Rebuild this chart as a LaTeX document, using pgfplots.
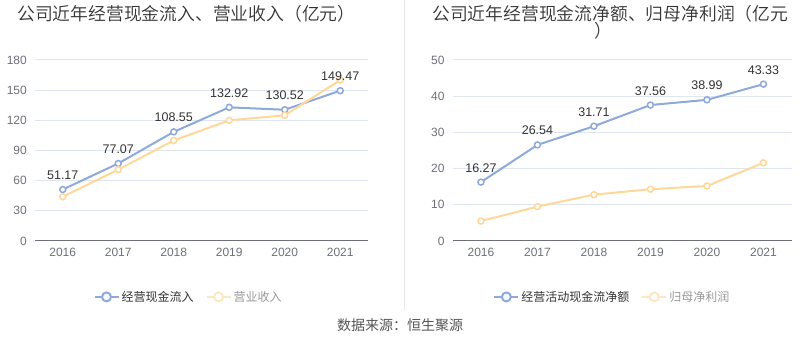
\documentclass[border=0pt]{standalone}
\usepackage{fontspec}
\setmainfont{Liberation Sans}
\newfontfamily\cjk{Noto Sans CJK SC}
\newfontfamily\cjkl{Noto Sans CJK SC DemiLight}
\usepackage{pgfplots}
\pgfplotsset{compat=1.18}
\definecolor{lblue}{HTML}{8EA9DB}
\definecolor{lorange}{HTML}{FFD899}
\definecolor{forange}{HTML}{FFE6C4}
\definecolor{gridc}{HTML}{E0E6F1}
\definecolor{axc}{HTML}{6E7079}
\definecolor{txt}{HTML}{333333}
\definecolor{ltxt}{HTML}{999999}
\definecolor{ftxt}{HTML}{555555}
\definecolor{sep}{HTML}{E8E8E8}
\pgfplotsset{
 mystyle/.style={
  scale only axis, anchor=south west, height=181pt,
  xmin=-0.5, xmax=5.5, ymin=0,
  xtick={0,1,2,3,4,5}, xticklabels={2016,2017,2018,2019,2020,2021},
  axis line style={draw=none},
  ymajorgrids, grid style={gridc, line width=1pt},
  major tick length=0pt,
  /pgf/number format/assume math mode=true,
  tick label style={axc, font=\fontsize{12}{12}\selectfont},
  xticklabel style={anchor=north, inner sep=0pt, yshift=-7pt},
  yticklabel style={anchor=east, inner sep=0pt, xshift=-8pt},
  clip=false,
  legend style={draw=none, fill=none, inner sep=0pt, legend columns=2,
    font=\cjk\fontsize{12}{12}\selectfont,
    /tikz/every even column/.append style={column sep=10pt},
    nodes={inner sep=2pt}},
  legend image code/.code={\draw[line width=2pt] (0pt,0pt) -- (24pt,0pt); \draw[line width=2pt, fill=white] (12pt,0pt) circle (4.5pt);},
  ser/.style={line width=2pt, mark=*, mark size=3pt, mark options={fill=white, line width=1.5pt}, forget plot},
  lab/.style={draw=none, mark=none, forget plot, nodes near coords={\pgfmathprintnumber[fixed,fixed zerofill,precision=2]{\pgfplotspointmeta}},
    nodes near coords style={text=txt, font=\fontsize{12.5}{12.5}\selectfont, anchor=base, yshift=10pt}},
 }
}
\begin{document}
\begin{tikzpicture}[x=1pt,y=1pt]
\path[use as bounding box] (0,0) rectangle (800,358);
\draw[sep, line width=1pt] (404.5,358) -- (404.5,48);
\node[anchor=west, inner sep=0pt, text=txt, font=\cjkl\fontsize{17.8}{17.8}\selectfont] at (17,344) {公司近年经营现金流入、营业收入（亿元）};
\node[anchor=west, inner sep=0pt, text=txt, font=\cjkl\fontsize{17.8}{17.8}\selectfont] at (432,344) {公司近年经营现金流净额、归母净利润（亿元};
\node[anchor=west, inner sep=0pt, text=txt, font=\cjkl\fontsize{17.8}{17.8}\selectfont] at (594,327) {）};
\node[text=ftxt, font=\cjk\fontsize{14}{14}\selectfont] at (400,33) {数据来源：恒生聚源};

\begin{axis}[mystyle, at={(35pt,117pt)}, width=333pt, ymax=180, ytick={0,30,60,90,120,150,180},
  legend style={at={(0.461,-0.309)}, anchor=center}]
\addlegendimage{lblue}
\addlegendentry{\textcolor{txt}{经营现金流入}}
\addlegendimage{forange}
\addlegendentry{\textcolor{ltxt}{营业收入}}
\addplot[ser, lblue] coordinates {(0,51.17) (1,77.07) (2,108.55) (3,132.92) (4,130.52) (5,149.47)};
\addplot[ser, lorange] coordinates {(0,44) (1,71) (2,100) (3,120) (4,125) (5,160)};
\addplot[lab] coordinates {(0,51.17) (1,77.07) (2,108.55) (3,132.92) (4,130.52) (5,149.47)};
\draw[axc, line width=1pt] (rel axis cs:0,0) -- (rel axis cs:1,0);
\end{axis}

\begin{axis}[mystyle, at={(452.7pt,117pt)}, width=339pt, ymax=50, ytick={0,10,20,30,40,50},
  legend style={at={(0.471,-0.309)}, anchor=center}]
\addlegendimage{lblue}
\addlegendentry{\textcolor{txt}{经营活动现金流净额}}
\addlegendimage{forange}
\addlegendentry{\textcolor{ltxt}{归母净利润}}
\addplot[ser, lblue] coordinates {(0,16.27) (1,26.54) (2,31.71) (3,37.56) (4,38.99) (5,43.33)};
\addplot[ser, lorange] coordinates {(0,5.5) (1,9.5) (2,12.8) (3,14.3) (4,15.2) (5,21.6)};
\addplot[lab] coordinates {(0,16.27) (1,26.54) (2,31.71) (3,37.56) (4,38.99) (5,43.33)};
\draw[axc, line width=1pt] (rel axis cs:0,0) -- (rel axis cs:1,0);
\end{axis}
\end{tikzpicture}
\end{document}
